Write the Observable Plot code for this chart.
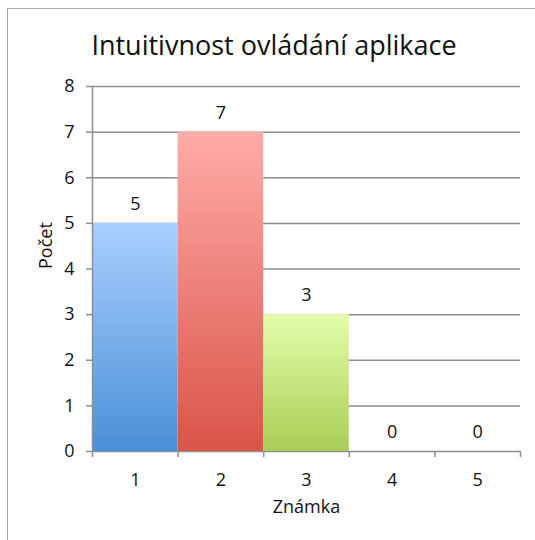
<!DOCTYPE html>
<html>
<head>
<meta charset="utf-8">
<script src="https://cdn.jsdelivr.net/npm/d3@7"></script>
<script src="https://cdn.jsdelivr.net/npm/@observablehq/plot@0.6"></script>
<style>
  body { margin: 0; background: #fff; }
  #wrap { position: relative; width: 535px; height: 540px; overflow: hidden; font-family: "Open Sans", sans-serif; }
  #frame { position: absolute; left: 7px; top: 8px; width: 540px; height: 540px; border-left: 1.5px solid #a8a8a8; border-top: 1.5px solid #a8a8a8; }
  #title { position: absolute; left: 0; top: 27px; width: 548px; text-align: center; font-size: 27px; line-height: 1.362; color: #111; white-space: nowrap; }
  #chart { position: absolute; left: 0; top: 0; }
</style>
</head>
<body>
<div id="wrap">
  <div id="frame"></div>
  <div id="chart"></div>
  <div id="title"></div>
</div>
<script>
const titleText = "Intuitivnost ovládání aplikace";
const grades = [1, 2, 3, 4, 5];
const counts = [5, 7, 3, 0, 0];
const yTicks = [0, 1, 2, 3, 4, 5, 6, 7, 8];
const xLabel = "Známka";
const yLabel = "Počet";
const gradTop = ["#aacfff", "#ffaba8", "#e4fdab", "#cccccc", "#cccccc"];
const gradBottom = ["#4a8fd7", "#da5449", "#a9cd56", "#999999", "#999999"];

document.getElementById("title").textContent = titleText;

const data = grades.map((g, i) => ({grade: g, count: counts[i], fill: `url(#grad-${g})`}));
const edges = [grades[0] - 0.5, ...grades.map(g => g + 0.5)];
const gray = "#8e8e8e";
const ink = "#111111";

const svg = Plot.plot({
  width: 535,
  height: 540,
  marginLeft: 92,
  marginRight: 15,
  marginTop: 86,
  marginBottom: 89,
  style: {fontFamily: "Open Sans, sans-serif", color: ink, background: "transparent", overflow: "visible"},
  x: {domain: [edges[0], edges[edges.length - 1]]},
  y: {domain: [0, 8]},
  color: {type: "identity"},
  marks: [
    Plot.gridY(yTicks, {stroke: gray, strokeOpacity: 1, strokeWidth: 1.5}),
    Plot.rectY(data, {x1: d => d.grade - 0.5, x2: d => d.grade + 0.5, y1: 0, y2: "count", fill: "fill"}),
    Plot.ruleX([edges[0]], {y1: 0, y2: 8, stroke: gray, strokeWidth: 1.5}),
    Plot.axisY({ticks: yTicks, tickSize: 6, tickPadding: 12, fontSize: 18, stroke: gray, strokeWidth: 1.5, tickFormat: d => String(d), label: null}),
    Plot.axisX({ticks: edges, tickSize: 6, tickFormat: () => "", stroke: gray, strokeWidth: 1.5, label: null}),
    Plot.axisX({ticks: grades, tickSize: 0, tickPadding: 22, fontSize: 18, tickFormat: d => String(d), label: null}),
    Plot.text(data, {x: "grade", y: "count", text: d => String(d.count), dy: -19, fontSize: 18, fill: ink}),
    Plot.text([yLabel], {frameAnchor: "left", dx: -46, rotate: -90, fontSize: 18, fill: ink}),
    Plot.text([xLabel], {frameAnchor: "bottom", lineAnchor: "middle", dy: 56, fontSize: 18, fill: ink})
  ]
});

const defs = d3.select(svg).insert("defs", ":first-child");
grades.forEach((g, i) => {
  const lg = defs.append("linearGradient").attr("id", `grad-${g}`).attr("x1", 0).attr("y1", 0).attr("x2", 0).attr("y2", 1);
  lg.append("stop").attr("offset", "0%").attr("stop-color", gradTop[i]);
  lg.append("stop").attr("offset", "100%").attr("stop-color", gradBottom[i]);
});

document.getElementById("chart").appendChild(svg);
</script>
</body>
</html>
